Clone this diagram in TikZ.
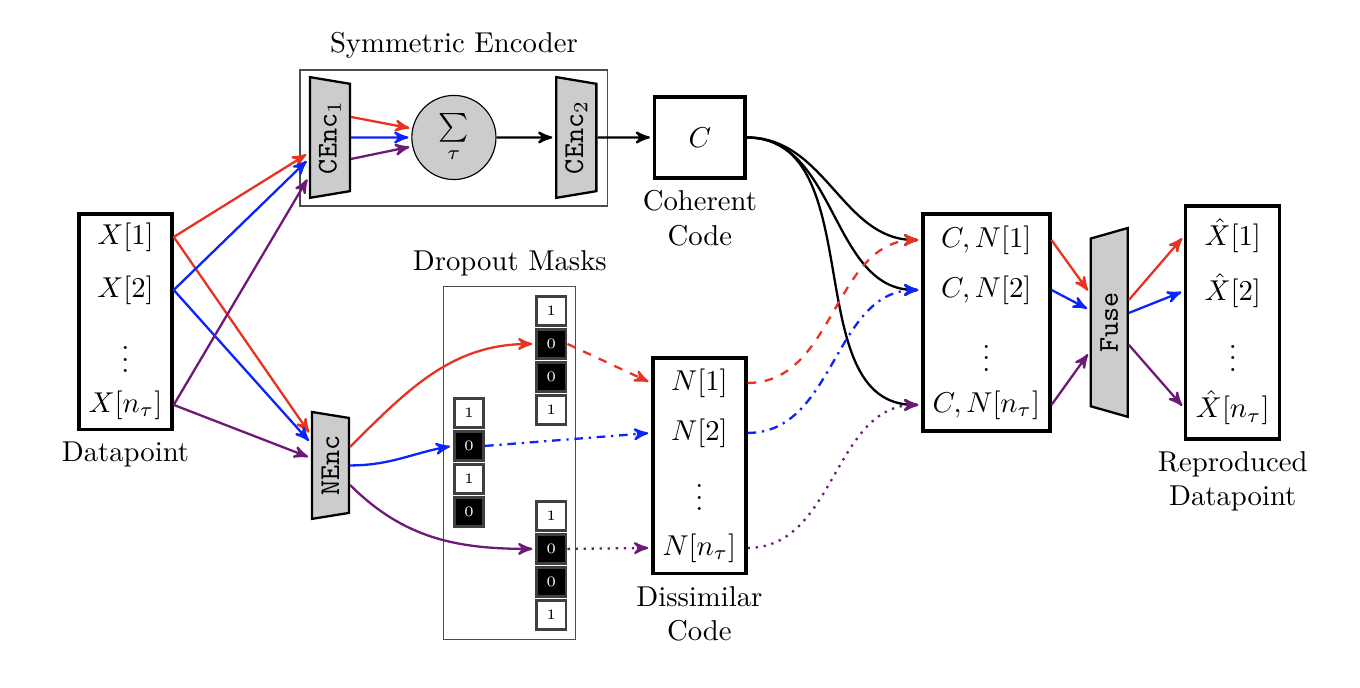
\documentclass[tikz,border=0pt]{standalone}
\usepackage{amsmath}
\usetikzlibrary{arrows,shapes.geometric,positioning}

\definecolor{cred}{RGB}{234,50,35}
\definecolor{cblue}{RGB}{10,35,255}
\definecolor{cpurple}{RGB}{110,25,120}

\begin{document}
\begin{tikzpicture}[->,>=stealth',shorten >=1pt,thick,
  block/.style={draw,very thick,minimum width=1.14cm,minimum height=2.64cm},
  enc/.style={trapezium,draw,thick,fill=gray!40,rotate=90,trapezium angle=80,
              trapezium stretches=true,inner sep=1pt,font=\ttfamily},
  cell/.style={draw=black!75,line width=1pt,minimum size=0.36cm,inner sep=0pt,font=\tiny},
  bit0/.style={cell,fill=black,text=white},
  bit1/.style={cell,fill=white},
  frame/.style={draw=black!70,thin}]

 \useasboundingbox (0,0) rectangle (16.65,-8.42);

 % datapoint
 \node[block] (dp) at (1.536,-3.941) {};
 \node (x1) at (1.536,-2.901) {$X[1]$};
 \node (x2) at (1.536,-3.550) {$X[2]$};
 \node (x3) at (1.536,-4.300) {$\vdots$};
 \node (xn) at (1.536,-4.957) {$X[n_\tau]$};
 \node[below=0pt of dp] (dplabel) {Datapoint};

 % symmetric encoder
 \node[frame,minimum width=3.77cm,minimum height=1.665cm] (symenc) at (5.557,-1.689) {};
 \node[above=0pt of symenc] (symlabel) {Symmetric Encoder};
 \node[enc,shape border rotate=180,minimum width=1.48cm,minimum height=0.49cm] (cenc1) at (4.039,-1.683) {CEnc$_1$};
 \node[circle,draw,thin,fill=gray!40,minimum size=1.03cm,inner sep=0pt] (sum) at (5.557,-1.683) {$\sum\limits_{\tau}$};
 \node[enc,shape border rotate=180,minimum width=1.48cm,minimum height=0.49cm] (cenc2) at (7.056,-1.683) {CEnc$_2$};
 \node[draw,very thick,minimum width=1.11cm,minimum height=0.99cm] (c) at (8.568,-1.683) {$C$};
 \node[below=0pt of c,align=center] (clabel) {Coherent\\Code};

 % noise encoder and masks
 \node[enc,shape border rotate=180,minimum width=1.31cm,minimum height=0.453cm] (nenc) at (4.045,-5.698) {NEnc};
 \node[frame,minimum width=1.616cm,minimum height=4.321cm] (drop) at (6.242,-5.673) {};
 \node[above=0pt of drop] (droplabel) {Dropout Masks};
 \foreach \b [count=\i] in {1,0,0,1}
   \node[bit\b] (ma\i) at (6.750,-3.403-0.404*\i) {\b};
 \foreach \b [count=\i] in {1,0,1,0}
   \node[bit\b] (mb\i) at (5.741,-4.651-0.404*\i) {\b};
 \foreach \b [count=\i] in {1,0,0,1}
   \node[bit\b] (mc\i) at (6.750,-5.912-0.404*\i) {\b};

 % dissimilar code
 \node[block] (nbox) at (8.562,-5.704) {};
 \node (n1) at (8.562,-4.688) {$N[1]$};
 \node (n2) at (8.562,-5.300) {$N[2]$};
 \node (n3) at (8.562,-5.990) {$\vdots$};
 \node (nn) at (8.562,-6.708) {$N[n_\tau]$};
 \node[below=0pt of nbox,align=center] (nlabel) {Dissimilar\\Code};

 % combined codes
 \node[block,minimum width=1.554cm,minimum height=2.656cm] (cnbox) at (12.075,-3.947) {};
 \node (cn1) at (12.075,-2.938) {$C,N[1]$};
 \node (cn2) at (12.075,-3.550) {$C,N[2]$};
 \node (cn3) at (12.075,-4.280) {$\vdots$};
 \node (cnn) at (12.075,-4.957) {$C,N[n_\tau]$};

 % decoder
 \node[enc,minimum width=2.313cm,minimum height=0.453cm] (fuse) at (13.580,-3.947) {Fuse};
 \node[block,minimum width=1.151cm,minimum height=2.852cm] (xhbox) at (15.092,-3.947) {};
 \node (xh1) at (15.092,-2.889) {$\hat{X}[1]$};
 \node (xh2) at (15.092,-3.562) {$\hat{X}[2]$};
 \node (xh3) at (15.092,-4.280) {$\vdots$};
 \node (xhn) at (15.092,-4.994) {$\hat{X}[n_\tau]$};
 \node[below=0pt of xhbox,align=center] (xhlabel) {Reproduced\\Datapoint};

 % inputs to encoders
 \draw[cred] (x1 -| dp.east) -- ([yshift=-0.19cm]cenc1.north);
 \draw[cred] (x1 -| dp.east) -- ([yshift=0.373cm]nenc.north);
 \draw[cblue] (x2 -| dp.east) -- ([yshift=-0.263cm]cenc1.north);
 \draw[cblue] (x2 -| dp.east) -- ([yshift=0.275cm]nenc.north);
 \draw[cpurple] (xn -| dp.east) -- ([yshift=-0.483cm]cenc1.north);
 \draw[cpurple] (xn -| dp.east) -- ([yshift=0.092cm]nenc.north);

 \draw[cred] ([yshift=0.251cm]cenc1.south) -- (sum.168);
 \draw[cblue] (cenc1.south) -- (sum.west);
 \draw[cpurple] ([yshift=-0.263cm]cenc1.south) -- (sum.192);
 \draw (sum.east) -- (cenc2.north);
 \draw (cenc2.south) -- (c.west);

 \draw[cred] ([yshift=0.226cm]nenc.south) to[out=45,in=180] (ma2.west);
 \draw[cblue] (nenc.south) to[out=0,in=190] (mb2.west);
 \draw[cpurple] ([yshift=-0.239cm]nenc.south) to[out=-45,in=180] (mc2.west);

 \draw[cred,dashed] (ma2.east) -- (n1 -| nbox.west);
 \draw[cblue,dashdotted] (mb2.east) -- (n2 -| nbox.west);
 \draw[cpurple,dotted] (mc2.east) -- (nn -| nbox.west);

 % merge codes
 \foreach \r in {cn1,cn2,cnn}
   \draw (c.east) to[out=0,in=180] (\r -| cnbox.west);
 \draw[cred,dashed] (n1 -| nbox.east) to[out=0,in=180] (cn1 -| cnbox.west);
 \draw[cblue,dashdotted] (n2 -| nbox.east) to[out=0,in=180] (cn2 -| cnbox.west);
 \draw[cpurple,dotted] (nn -| nbox.east) to[out=0,in=180] (cnn -| cnbox.west);

 \draw[cred] (cn1 -| cnbox.east) -- ([yshift=0.361cm]fuse.north);
 \draw[cblue] (cn2 -| cnbox.east) -- ([yshift=0.153cm]fuse.north);
 \draw[cpurple] (cnn -| cnbox.east) -- ([yshift=-0.361cm]fuse.north);

 \draw[cred] ([yshift=0.275cm]fuse.south) -- (xh1 -| xhbox.west);
 \draw[cblue] ([yshift=0.116cm]fuse.south) -- (xh2 -| xhbox.west);
 \draw[cpurple] ([yshift=-0.275cm]fuse.south) -- (xhn -| xhbox.west);

\end{tikzpicture}
\end{document}
